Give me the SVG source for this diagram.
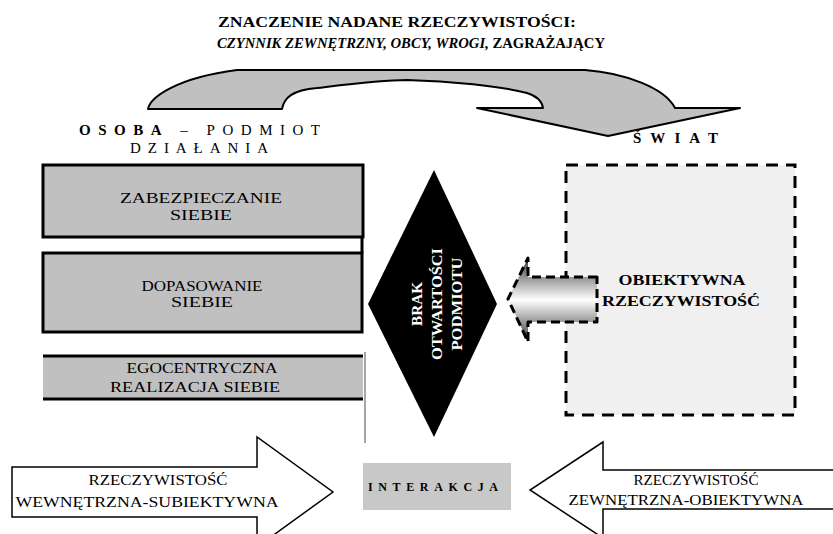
<svg xmlns="http://www.w3.org/2000/svg" width="833" height="534" viewBox="0 0 833 534">
<style>
text{font-family:"Liberation Serif","DejaVu Serif","Noto Serif","Times New Roman",serif;fill:#000}
.t{font-size:15px;font-weight:bold}
.lbl{font-size:15px}
.box{font-size:15px;text-anchor:middle}
.gbox{fill:#c0c0c0;stroke:#000;stroke-width:3}
.dia{font-size:15px;font-weight:bold;fill:#fff;text-anchor:middle}
.arr{fill:#fff;stroke:#000;stroke-width:1.5}
</style>
<defs>
<linearGradient id="g" x1="0" y1="0" x2="0" y2="1">
<stop offset="0" stop-color="#3a3a3a"/>
<stop offset="0.5" stop-color="#ffffff"/>
<stop offset="1" stop-color="#3a3a3a"/>
</linearGradient>
</defs>

<g id="title">
<text class="t" x="218" y="27" textLength="358" lengthAdjust="spacingAndGlyphs">ZNACZENIE NADANE RZECZYWISTOŚCI:</text>
<text class="t" x="217" y="48" textLength="388" lengthAdjust="spacingAndGlyphs"><tspan font-style="italic">CZYNNIK ZEWNĘTRZNY, OBCY, WROGI,</tspan> ZAGRAŻAJĄCY</text>
</g>

<g id="swiat-label">
<text class="lbl" x="633" y="143" font-weight="bold" textLength="85">ŚWIAT</text>
</g>

<g id="connectors">
<path d="M148,109 C150,98 175,78 237,70 L585,70 C625,73 665,88 675,108 L740,108 L608,136 L477,108 L543,108 C542,102 537,96 527,93 C500,86 450,81 407,80 C380,80 350,84 317,88 C292,90 284,98 282,109 Z" fill="#c0c0c0" stroke="#000" stroke-width="2" stroke-linejoin="round"/>
</g>

<g id="osoba-label">
<text class="lbl" x="79" y="135" textLength="241"><tspan font-weight="bold">OSOBA</tspan> – PODMIOT</text>
<text class="lbl" x="130" y="153" textLength="138">DZIAŁANIA</text>
</g>

<g id="zabezpieczanie">
<rect class="gbox" x="43" y="165" width="320" height="72"/>
<text class="box" x="201" y="203" textLength="162" lengthAdjust="spacingAndGlyphs">ZABEZPIECZANIE</text>
<text class="box" x="201" y="220" textLength="62" lengthAdjust="spacingAndGlyphs">SIEBIE</text>
</g>
<line x1="362" y1="237" x2="362" y2="253" stroke="#000" stroke-width="3"/>

<g id="dopasowanie">
<rect class="gbox" x="43" y="253" width="319" height="79"/>
<text class="box" x="202" y="291" textLength="121" lengthAdjust="spacingAndGlyphs">DOPASOWANIE</text>
<text class="box" x="202" y="307" textLength="62" lengthAdjust="spacingAndGlyphs">SIEBIE</text>
</g>

<g id="egocentryczna">
<rect x="43" y="356" width="320" height="43" fill="#c0c0c0"/>
<line x1="43" y1="356" x2="363" y2="356" stroke="#000" stroke-width="3"/>
<line x1="43" y1="399" x2="363" y2="399" stroke="#000" stroke-width="3"/>
<text class="box" x="202" y="373" textLength="151" lengthAdjust="spacingAndGlyphs">EGOCENTRYCZNA</text>
<text class="box" x="195" y="392" textLength="170" lengthAdjust="spacingAndGlyphs">REALIZACJA SIEBIE</text>
</g>
<line x1="365" y1="352" x2="365" y2="443" stroke="#888" stroke-width="1.5"/>

<g id="brak">
<polygon points="434,170 497,304 434,437 368,304" fill="#000"/>
<g transform="rotate(-90 434 304)">
<text class="dia" x="434" y="292" textLength="44" lengthAdjust="spacingAndGlyphs">BRAK</text>
<text class="dia" x="434" y="312" textLength="112" lengthAdjust="spacingAndGlyphs">OTWARTOŚCI</text>
<text class="dia" x="434" y="332" textLength="93" lengthAdjust="spacingAndGlyphs">PODMIOTU</text>
</g>
</g>

<g id="obiektywna">
<rect x="566" y="165" width="229" height="250" fill="#f0f0f0" stroke="#000" stroke-width="3" stroke-dasharray="12,8"/>
<path d="M597,277 L528,277 L528,258 L508,299 L528,342 L528,322 L597,322 Z" fill="url(#g)" stroke="#000" stroke-width="3" stroke-dasharray="9,5" stroke-linejoin="round"/>
<text class="box" x="682" y="285" font-weight="bold" textLength="127" lengthAdjust="spacingAndGlyphs">OBIEKTYWNA</text>
<text class="box" x="681" y="306" font-weight="bold" textLength="158" lengthAdjust="spacingAndGlyphs">RZECZYWISTOŚĆ</text>
</g>

<g id="wewnetrzna">
<path class="arr" d="M12,467 L257,467 L257,437 L333,492 L257,547 L257,517 L12,517 Z"/>
<text class="box" x="158" y="485" textLength="139" lengthAdjust="spacingAndGlyphs">RZECZYWISTOŚĆ</text>
<text class="box" x="147" y="507" textLength="263" lengthAdjust="spacingAndGlyphs">WEWNĘTRZNA-SUBIEKTYWNA</text>
</g>

<g id="zewnetrzna">
<path class="arr" d="M840,470 L603,470 L603,442 L530,490 L603,538 L603,509 L840,509"/>
<text class="box" x="696" y="485" textLength="125" lengthAdjust="spacingAndGlyphs">RZECZYWISTOŚĆ</text>
<text class="box" x="686" y="505" textLength="235" lengthAdjust="spacingAndGlyphs">ZEWNĘTRZNA-OBIEKTYWNA</text>
</g>

<g id="interakcja">
<rect x="363" y="463" width="148" height="47" fill="#c8c8c8"/>
<text x="368" y="491" font-size="12" font-weight="bold" fill="#333" textLength="130">INTERAKCJA</text>
</g>
</svg>
